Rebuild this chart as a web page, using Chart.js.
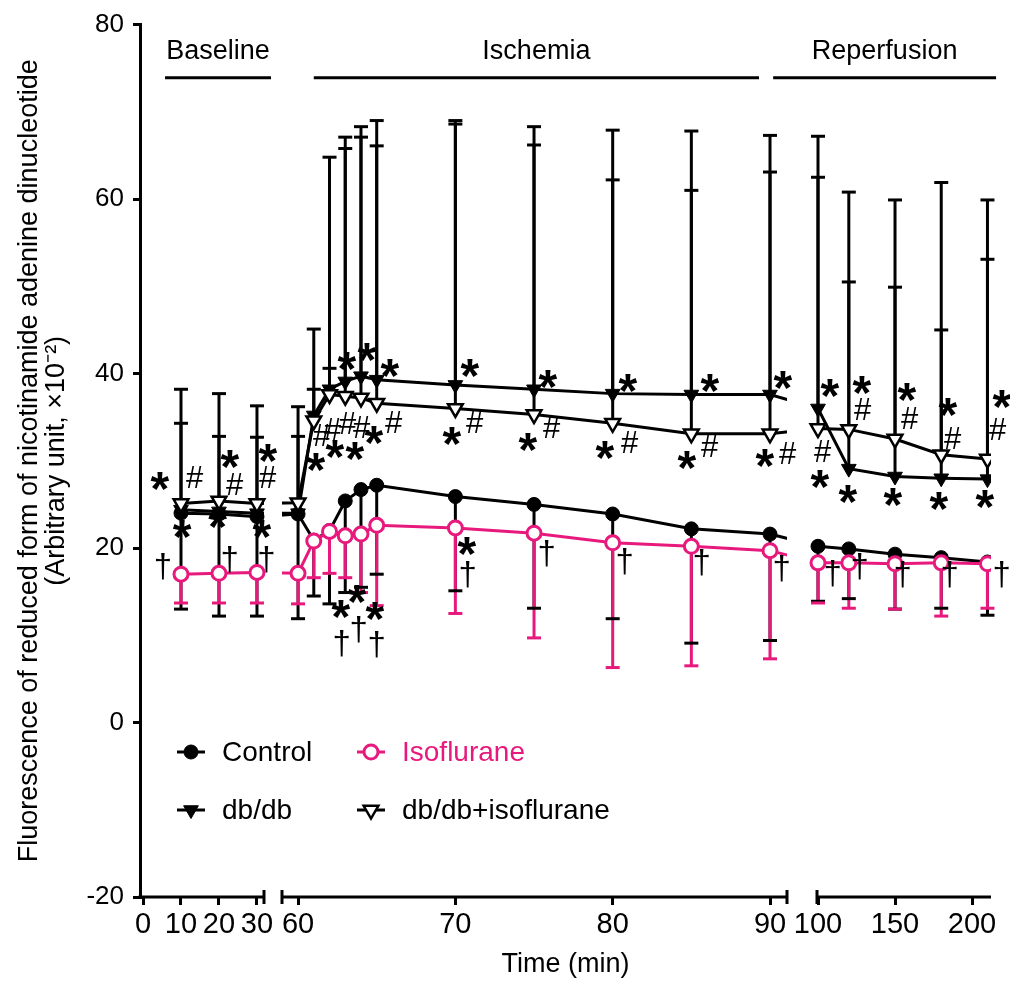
<!DOCTYPE html>
<html>
<head>
<meta charset="utf-8">
<script src="https://cdn.jsdelivr.net/npm/chart.js@4/dist/chart.umd.min.js"></script>
<style>
html,body{margin:0;padding:0;background:#fff;}
#wrap{width:1010px;height:981px;}
</style>
</head>
<body>
<div id="wrap"><canvas id="c" width="1010" height="981"></canvas></div>
<script>
// ---------------- data ----------------
const TIMES = [10,20,30,60,61,62,63,64,65,70,75,80,85,90,100,120,150,180,210];
const CONTROL     = [24.0,23.9,23.6,23.9,20.9,22.0,25.4,26.7,27.2,25.9,25.0,23.9,22.2,21.6,20.2,19.9,19.3,18.9,18.4];
const CONTROL_LOW = [13.0,12.2,12.2,11.9,14.5,13.6,14.9,15.5,17.0,15.1,13.1,11.9,9.1,9.4,13.9,14.2,13.0,13.1,12.3];
const ISO         = [17.0,17.1,17.2,17.1,20.8,21.9,21.4,21.6,22.6,22.3,21.7,20.6,20.2,19.7,18.3,18.3,18.2,18.3,18.2];
const ISO_LOW     = [13.7,13.7,13.7,13.6,16.6,17.1,16.6,14.9,13.4,12.5,9.7,6.3,6.5,7.3,13.7,13.1,13.0,12.2,13.1];
const DB          = [24.4,24.2,24.0,24.0,35.2,38.2,39.1,39.7,39.3,38.7,38.2,37.7,37.6,37.6,36.0,29.1,28.2,28.0,27.9];
const DB_HIGH     = [38.2,37.7,36.3,36.2,45.1,64.8,67.1,68.3,69.0,69.0,68.3,67.9,67.8,67.3,67.2,60.8,59.9,61.9,59.9];
const DBISO       = [25.1,25.4,25.1,25.2,34.6,37.6,37.4,37.2,36.6,36.0,35.3,34.3,33.1,33.1,33.7,33.6,32.5,30.7,30.2];
const DBISO_HIGH  = [34.3,32.8,32.7,32.8,38.2,40.6,65.8,67.1,66.1,68.6,66.2,62.2,61.0,63.1,62.5,50.5,49.9,45.0,53.1];

const SERIES_NAMES = ['Control','Isoflurane','db/db','db/db+isoflurane'];
const X_TICKS = [0,10,20,30,60,70,80,90,100,150,200];
const Y_TICKS = [-20,0,20,40,60,80];

const PHASE_NAMES = ['Baseline','Ischemia','Reperfusion'];
const PHASE_FROM  = [5.8, 61.0, 90.2];
const PHASE_TO    = [33.7, 89.3, 215.6];

// significance marks: time, value, symbol
const MARK_T = [4.5,13.7,10.3,5.3, 22.9,24.2,19.7,22.9, 32.9,32.9,31.3,32.6,
  61.14,61.53,62.22,63.18,64.07,62.35,63.62,64.83,63.11,64.39,65.85,66.10,62.73,63.75,64.89,62.80,63.88,65.02,
  70.93,69.79,71.25,70.74,70.81,
  75.89,74.62,76.14,75.83,
  80.97,79.51,81.10,80.78,
  86.19,84.73,86.19,85.68,
  90.83,89.68,91.14,90.76,
  107.8,103.2,101.3,109.7,
  128.6,129.2,119.5,127.3,
  157.8,159.7,148.7,155.2,
  184.4,187.7,178.6,185.7,
  219.5,216.9,208.4,219.5];
const MARK_V = [27.7,28.2,22.2,17.9, 30.2,27.3,23.3,18.7, 30.9,28.1,22.2,18.7,
  29.9,33.0,33.7,34.3,33.9,31.3,31.1,33.0,41.4,42.5,40.6,34.5,13.0,14.7,12.8,9.1,10.7,9.0,
  40.6,32.8,34.5,20.2,17.0,
  39.4,32.2,33.9,19.4,
  38.9,31.2,32.2,18.5,
  38.9,30.1,31.7,18.3,
  39.3,30.3,30.9,17.6,
  38.3,31.1,27.9,17.1,
  38.7,35.9,26.2,17.9,
  37.9,34.9,25.9,17.0,
  36.2,32.6,25.4,17.0,
  37.1,33.7,25.6,17.0];
const MARK_S = ['*','#','*','†', '*','#','*','†', '*','#','*','†',
  '*','#','#','#','#','*','*','*','*','*','*','#','*','*','*','†','†','†',
  '*','*','#','*','†',
  '*','*','#','†',
  '*','*','#','†',
  '*','*','#','†',
  '*','*','#','†',
  '*','#','*','†',
  '*','#','*','†',
  '*','#','*','†',
  '*','#','*','†',
  '*','#','*','†'];

// ---------------- broken time axis ----------------
const SEGMENTS = [
  {t0:-0.79, t1:31.85, v0:0,   v1:124},
  {t0:58.98, t1:91.08, v0:142, v1:647},
  {t0:99.35, t1:212.3, v0:677, v1:851}
];
function segOf(t){ return t < 45 ? 0 : (t < 95 ? 1 : 2); }
function toV(t){ const s = SEGMENTS[segOf(t)]; return s.v0 + (t - s.t0) * (s.v1 - s.v0) / (s.t1 - s.t0); }

const FONT = "'Liberation Sans', Arial, Helvetica, sans-serif";
const PINK = '#E8197D';
Chart.defaults.font.family = FONT;
Chart.defaults.color = '#000';

const pts = arr => TIMES.map((t, i) => ({x: toV(t), y: arr[i]}));

function drawMarker(ctx, type, x, y, r, fill, stroke, lw){
  ctx.beginPath();
  if (type === 'circle') ctx.arc(x, y, r, 0, Math.PI * 2);
  else { ctx.moveTo(x - r * 0.866, y - r * 0.5); ctx.lineTo(x + r * 0.866, y - r * 0.5); ctx.lineTo(x, y + r); ctx.closePath(); }
  ctx.fillStyle = fill; ctx.fill();
  ctx.lineWidth = lw; ctx.strokeStyle = stroke; ctx.stroke();
}

const ERRORS = [
  {mean: CONTROL, end: CONTROL_LOW, color: '#000'},
  {mean: ISO, end: ISO_LOW, color: PINK},
  {mean: DB, end: DB_HIGH, color: '#000'},
  {mean: DBISO, end: DBISO_HIGH, color: '#000'}
];

const LEGEND_STYLE = [
  {type:'circle', r:7, fill:'#000', stroke:'#000', lw:1, line:'#000', text:'#000'},
  {type:'circle', r:7, fill:'#fff', stroke:PINK, lw:3, line:PINK, text:PINK},
  {type:'tri', r:8.5, fill:'#000', stroke:'#000', lw:1, line:'#000', text:'#000'},
  {type:'tri', r:8.5, fill:'#fff', stroke:'#000', lw:2.5, line:'#000', text:'#000'}
];

const MARK_FONT = {'*': 'bold 48px ', '#': '31px ', '†': '33px '};

const decor = {
  id: 'decor',
  beforeDatasetsDraw(chart){
    const {ctx, scales:{x, y}} = chart;
    ctx.save();
    ctx.lineWidth = 3; ctx.lineCap = 'butt';
    ERRORS.forEach(e => {
      ctx.strokeStyle = e.color;
      TIMES.forEach((t, i) => {
        const px = x.getPixelForValue(toV(t));
        ctx.beginPath(); ctx.moveTo(px, y.getPixelForValue(e.mean[i])); ctx.lineTo(px, y.getPixelForValue(e.end[i])); ctx.stroke();
      });
    });
    ERRORS.forEach(e => {
      ctx.strokeStyle = e.color;
      TIMES.forEach((t, i) => {
        const px = x.getPixelForValue(toV(t));
        const py = y.getPixelForValue(e.end[i]);
        ctx.beginPath(); ctx.moveTo(px - 7, py); ctx.lineTo(px + 7, py); ctx.stroke();
      });
    });
    ctx.restore();
  },
  beforeDatasetDraw(chart, args){
    const ds = chart.data.datasets[args.index];
    if (!ds.segmentClip) return;
    const {ctx, scales:{x}} = chart;
    ctx.save();
    ctx.beginPath();
    SEGMENTS.forEach(s => {
      const a = x.getPixelForValue(s.v0), b = x.getPixelForValue(s.v1);
      ctx.rect(a, 0, b - a, chart.height);
    });
    ctx.clip();
  },
  afterDatasetDraw(chart, args){
    if (chart.data.datasets[args.index].segmentClip) chart.ctx.restore();
  },
  afterDatasetsDraw(chart, args, opts){
    const {ctx, scales:{x, y}} = chart;
    ctx.save();
    ctx.fillStyle = '#000';
    ctx.textAlign = 'left'; ctx.textBaseline = 'alphabetic';
    MARK_S.forEach((s, i) => {
      ctx.font = MARK_FONT[s] + FONT;
      const m = ctx.measureText(s);
      const cx = x.getPixelForValue(toV(MARK_T[i]));
      const cy = y.getPixelForValue(MARK_V[i]);
      const w = m.actualBoundingBoxRight + m.actualBoundingBoxLeft;
      const h = m.actualBoundingBoxAscent + m.actualBoundingBoxDescent;
      ctx.fillText(s, cx - w / 2 + m.actualBoundingBoxLeft, cy + h / 2 - m.actualBoundingBoxDescent);
    });
    ctx.font = '28px ' + FONT;
    ctx.textBaseline = 'middle';
    SERIES_NAMES.forEach((name, i) => {
      const st = LEGEND_STYLE[i];
      const cx = opts.legendX[i % 2], cy = opts.legendY[Math.floor(i / 2)];
      ctx.lineWidth = 3; ctx.strokeStyle = st.line;
      ctx.beginPath(); ctx.moveTo(cx - 14, cy); ctx.lineTo(cx + 14, cy); ctx.stroke();
      drawMarker(ctx, st.type, cx, cy, st.r, st.fill, st.stroke, st.lw);
      ctx.fillStyle = st.text;
      ctx.fillText(name, cx + 31, cy + 1);
    });
    ctx.restore();
  },
  afterDraw(chart, args, opts){
    const {ctx, chartArea, scales:{x, y}} = chart;
    ctx.save();
    ctx.strokeStyle = '#000'; ctx.lineWidth = 3;
    const yb = chartArea.bottom;
    SEGMENTS.forEach((s, k) => {
      const a = x.getPixelForValue(s.v0), b = x.getPixelForValue(s.v1);
      ctx.beginPath(); ctx.moveTo(k === 0 ? a - 1.5 : a, yb); ctx.lineTo(b, yb); ctx.stroke();
      if (k > 0) { ctx.beginPath(); ctx.moveTo(a, yb - 7); ctx.lineTo(a, yb + 7); ctx.stroke(); }
      if (k < SEGMENTS.length - 1) { ctx.beginPath(); ctx.moveTo(b, yb - 7); ctx.lineTo(b, yb + 7); ctx.stroke(); }
    });
    ctx.font = '27px ' + FONT;
    ctx.fillStyle = '#000';
    ctx.textAlign = 'center'; ctx.textBaseline = 'alphabetic';
    PHASE_NAMES.forEach((n, i) => {
      const a = x.getPixelForValue(toV(PHASE_FROM[i])), b = x.getPixelForValue(toV(PHASE_TO[i]));
      const ly = y.getPixelForValue(opts.phaseLine);
      ctx.beginPath(); ctx.moveTo(a, ly); ctx.lineTo(b, ly); ctx.stroke();
      ctx.fillText(n, (a + b) / 2, y.getPixelForValue(opts.phaseText));
    });
    ctx.restore();
  }
};

const lineDs = (arr, color, order) => ({
  data: pts(arr), showLine: true, pointRadius: 0, borderColor: color, borderWidth: 3,
  tension: 0, fill: false, segmentClip: true, order: order
});
const pointDs = (label, arr, style, r, fill, stroke, bw, order) => ({
  label: label, data: pts(arr), showLine: false, pointStyle: style, pointRotation: style === 'triangle' ? 180 : 0,
  pointRadius: r, pointBackgroundColor: fill, pointBorderColor: stroke, pointBorderWidth: bw, order: order
});

new Chart(document.getElementById('c'), {
  type: 'line',
  data: {
    datasets: [
      pointDs(SERIES_NAMES[1], ISO, 'circle', 7, '#fff', PINK, 3, 1),
      pointDs(SERIES_NAMES[3], DBISO, 'triangle', 8.5, '#fff', '#000', 2.5, 2),
      pointDs(SERIES_NAMES[2], DB, 'triangle', 8.5, '#000', '#000', 1, 3),
      pointDs(SERIES_NAMES[0], CONTROL, 'circle', 7, '#000', '#000', 1, 4),
      lineDs(ISO, PINK, 5),
      lineDs(DBISO, '#000', 6),
      lineDs(DB, '#000', 7),
      lineDs(CONTROL, '#000', 8)
    ]
  },
  options: {
    responsive: false,
    animation: false,
    events: [],
    layout: {padding: {top: 22, right: 19, bottom: 0, left: 0}},
    plugins: {
      legend: {display: false},
      tooltip: {enabled: false},
      decor: {legendX: [191, 371], legendY: [752, 810], phaseLine: 73.9, phaseText: 76.0}
    },
    scales: {
      x: {
        type: 'linear', min: 0, max: 851,
        afterBuildTicks: s => { s.ticks = X_TICKS.map(t => ({value: toV(t)})); },
        afterFit: s => { s.height = 84; },
        ticks: {autoSkip: false, maxRotation: 0, minRotation: 0, padding: 3,
          font: {size: 29}, color: '#000', callback: (v, i) => String(X_TICKS[i])},
        grid: {display: true, drawOnChartArea: false, drawTicks: true, tickLength: 8, lineWidth: 3, color: '#000'},
        border: {display: false},
        title: {display: true, text: 'Time (min)', font: {size: 27}, color: '#000', padding: {top: 0, bottom: 0}}
      },
      y: {
        type: 'linear', min: -20, max: 80,
        afterBuildTicks: s => { s.ticks = Y_TICKS.map(v => ({value: v})); },
        afterFit: s => { s.width = 140; },
        ticks: {font: {size: 26}, color: '#000', padding: 9},
        grid: {display: true, drawOnChartArea: false, drawTicks: true, tickLength: 7, lineWidth: 3, color: '#000'},
        border: {display: true, width: 3, color: '#000'},
        title: {display: true,
          text: ['Fluorescence of reduced form of nicotinamide adenine dinucleotide', '(Arbitrary unit, \u00d710\u207b\u00b2)'],
          font: {size: 27, lineHeight: 1.0}, color: '#000', padding: {top: 16, bottom: 0}}
      }
    }
  },
  plugins: [decor]
});
</script>
</body>
</html>
